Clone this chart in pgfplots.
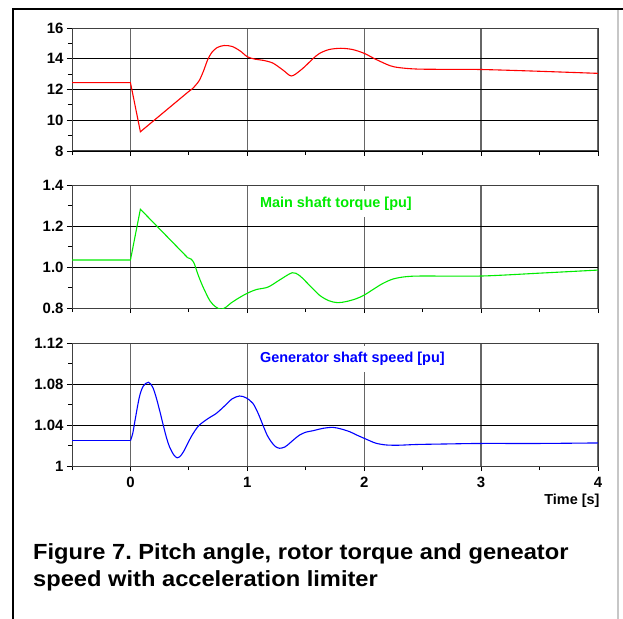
\documentclass[border=0pt]{standalone}
\usepackage{fontspec}
\setmainfont{Liberation Sans}
\newfontfamily\capfont[FakeStretch=1.08]{Liberation Sans}
\usepackage{pgfplots}
\pgfplotsset{compat=1.18}
\frenchspacing

\definecolor{plotred}{RGB}{255,0,0}
\definecolor{plotgreen}{RGB}{0,235,0}
\definecolor{plotblue}{RGB}{0,0,255}

\pgfplotsset{
  panel/.style={
    scale only axis, width=526bp, height=123bp,
    anchor=north west,
    xmin=-0.5, xmax=4,
    xtick={0,1,2,3,4}, minor xtick={-0.5,0.5,1.5,2.5,3.5},
    xticklabels={},
    tick align=outside, tick pos=left,
    major tick length=5bp, minor tick length=4bp,
    xmajorgrids, ymajorgrids,
    x grid style={black!60, line width=1.4bp},
    y grid style={black, line width=0.8bp},
    axis line style={black!75, line width=1bp},
    tick style={black, line width=0.8bp},
    ticklabel style={font=\fontsize{15}{17}\selectfont\bfseries},
    xticklabel style={yshift=-3bp},
    /pgf/number format/assume math mode=true,
  },
}
\tikzset{
  lbl/.style={fill=white, anchor=base west, inner xsep=2bp, inner ysep=6bp,
    font=\fontsize{14.5}{16}\selectfont\bfseries},
}

\begin{document}
\begin{tikzpicture}
\useasboundingbox (0,0) rectangle (623bp,-619bp);
\draw[line width=2bp] (12bp,-9bp) -- (623bp,-9bp);
\draw[line width=2bp] (13bp,-8bp) -- (13bp,-619bp);
\draw[line width=2bp, black!22] (618bp,-10bp) -- (618bp,-619bp);

% pitch angle
\begin{axis}[panel, at={(72bp,-28bp)},
    ymin=8, ymax=16, ytick={8,10,12,14,16}, minor ytick={9,11,13,15}]
\addplot[plotred, line width=1.1bp] coordinates {
  (-0.5,12.45) (0,12.45) (0.085,9.25) (0.50,11.88)
};
\addplot[plotred, line width=1.1bp, smooth] coordinates {
  (0.50,11.88) (0.53,12.05) (0.56,12.3) (0.59,12.6) (0.625,13.2)
  (0.66,13.92) (0.695,14.4) (0.74,14.72) (0.80,14.86) (0.87,14.8)
  (0.94,14.5) (1.0,14.13) (1.067,13.97) (1.133,13.9) (1.218,13.72)
  (1.304,13.27) (1.376,12.88) (1.447,13.2) (1.50,13.55) (1.561,14.0)
  (1.618,14.35) (1.70,14.6) (1.80,14.68) (1.90,14.6) (2.0,14.35)
  (2.10,13.96) (2.22,13.55) (2.30,13.42) (2.45,13.33) (2.7,13.31)
  (3.0,13.3) (3.44,13.2) (4.0,13.05)
};
\end{axis}

% main shaft torque
\begin{axis}[panel, at={(72bp,-185bp)},
    ymin=0.8, ymax=1.4, ytick={0.8,1.0,1.2,1.4}, minor ytick={0.9,1.1,1.3},
    yticklabels={0.8,1.0,1.2,1.4}]
\addplot[plotgreen, line width=1.1bp] coordinates {
  (-0.5,1.034) (0,1.034) (0.085,1.282) (0.49,1.045)
};
\addplot[plotgreen, line width=1.1bp, smooth] coordinates {
  (0.49,1.045) (0.52,1.038) (0.545,1.018) (0.58,0.96) (0.62,0.904)
  (0.68,0.835) (0.73,0.805) (0.776,0.794) (0.82,0.805) (0.857,0.823)
  (0.93,0.85) (1.0,0.872) (1.077,0.89) (1.177,0.902) (1.277,0.937)
  (1.384,0.972) (1.447,0.958) (1.533,0.91) (1.618,0.862) (1.70,0.835)
  (1.775,0.826) (1.85,0.832) (1.93,0.845) (2.0,0.863) (2.08,0.892)
  (2.16,0.92) (2.25,0.942) (2.36,0.953) (2.5,0.956) (3.0,0.956)
  (3.5,0.97) (4.0,0.985)
};
\node[lbl, text=plotgreen] at (axis cs:1.09,1.288) {Main shaft torque [pu]};
\end{axis}

% generator speed
\begin{axis}[panel, at={(72bp,-343bp)},
    ymin=1, ymax=1.12, ytick={1,1.04,1.08,1.12}, minor ytick={1.02,1.06,1.10},
    yticklabels={1,1.04,1.08,1.12},
    xticklabels={0,1,2,3,4},
    xlabel={Time [s]},
    xlabel style={at={(axis description cs:1,0)}, anchor=east,
      xshift=5bp, yshift=-35bp, font=\fontsize{14.5}{16}\selectfont\bfseries}]
\addplot[plotblue, line width=1.1bp] coordinates {
  (-0.5,1.0247) (0,1.0247)
};
\addplot[plotblue, line width=1.1bp, smooth] coordinates {
  (0,1.0247) (0.02,1.032) (0.04,1.045) (0.077,1.0676) (0.11,1.078)
  (0.154,1.0817) (0.19,1.077) (0.22,1.067) (0.25,1.054) (0.277,1.0416)
  (0.305,1.029) (0.334,1.0188) (0.37,1.011) (0.40,1.008) (0.43,1.010)
  (0.462,1.0156) (0.49,1.022) (0.52,1.0286) (0.555,1.035) (0.59,1.040)
  (0.66,1.046) (0.734,1.0513) (0.80,1.058) (0.87,1.0655) (0.933,1.0683)
  (0.99,1.0665) (1.047,1.0612) (1.09,1.052) (1.133,1.040) (1.17,1.030)
  (1.204,1.0237) (1.24,1.019) (1.276,1.0173) (1.32,1.0185) (1.361,1.0221)
  (1.40,1.026) (1.447,1.0302) (1.50,1.033) (1.561,1.0344) (1.65,1.0368)
  (1.732,1.0377) (1.80,1.0362) (1.875,1.0335) (1.94,1.030) (2.0,1.027)
  (2.05,1.0245) (2.104,1.0221) (2.19,1.0205) (2.3,1.0203) (2.45,1.021)
  (2.7,1.0215) (3.0,1.022) (3.5,1.022) (4.0,1.0225)
};
\node[lbl, text=plotblue] at (axis cs:1.09,1.1008) {Generator shaft speed [pu]};
\end{axis}

\node[anchor=base west, inner sep=0pt, font=\capfont\fontsize{22}{27}\selectfont\bfseries]
  at (33bp,-559bp) {Figure 7. Pitch angle, rotor torque and geneator};
\node[anchor=base west, inner sep=0pt, font=\capfont\fontsize{22}{27}\selectfont\bfseries]
  at (33bp,-586bp) {speed with acceleration limiter};
\end{tikzpicture}
\end{document}
